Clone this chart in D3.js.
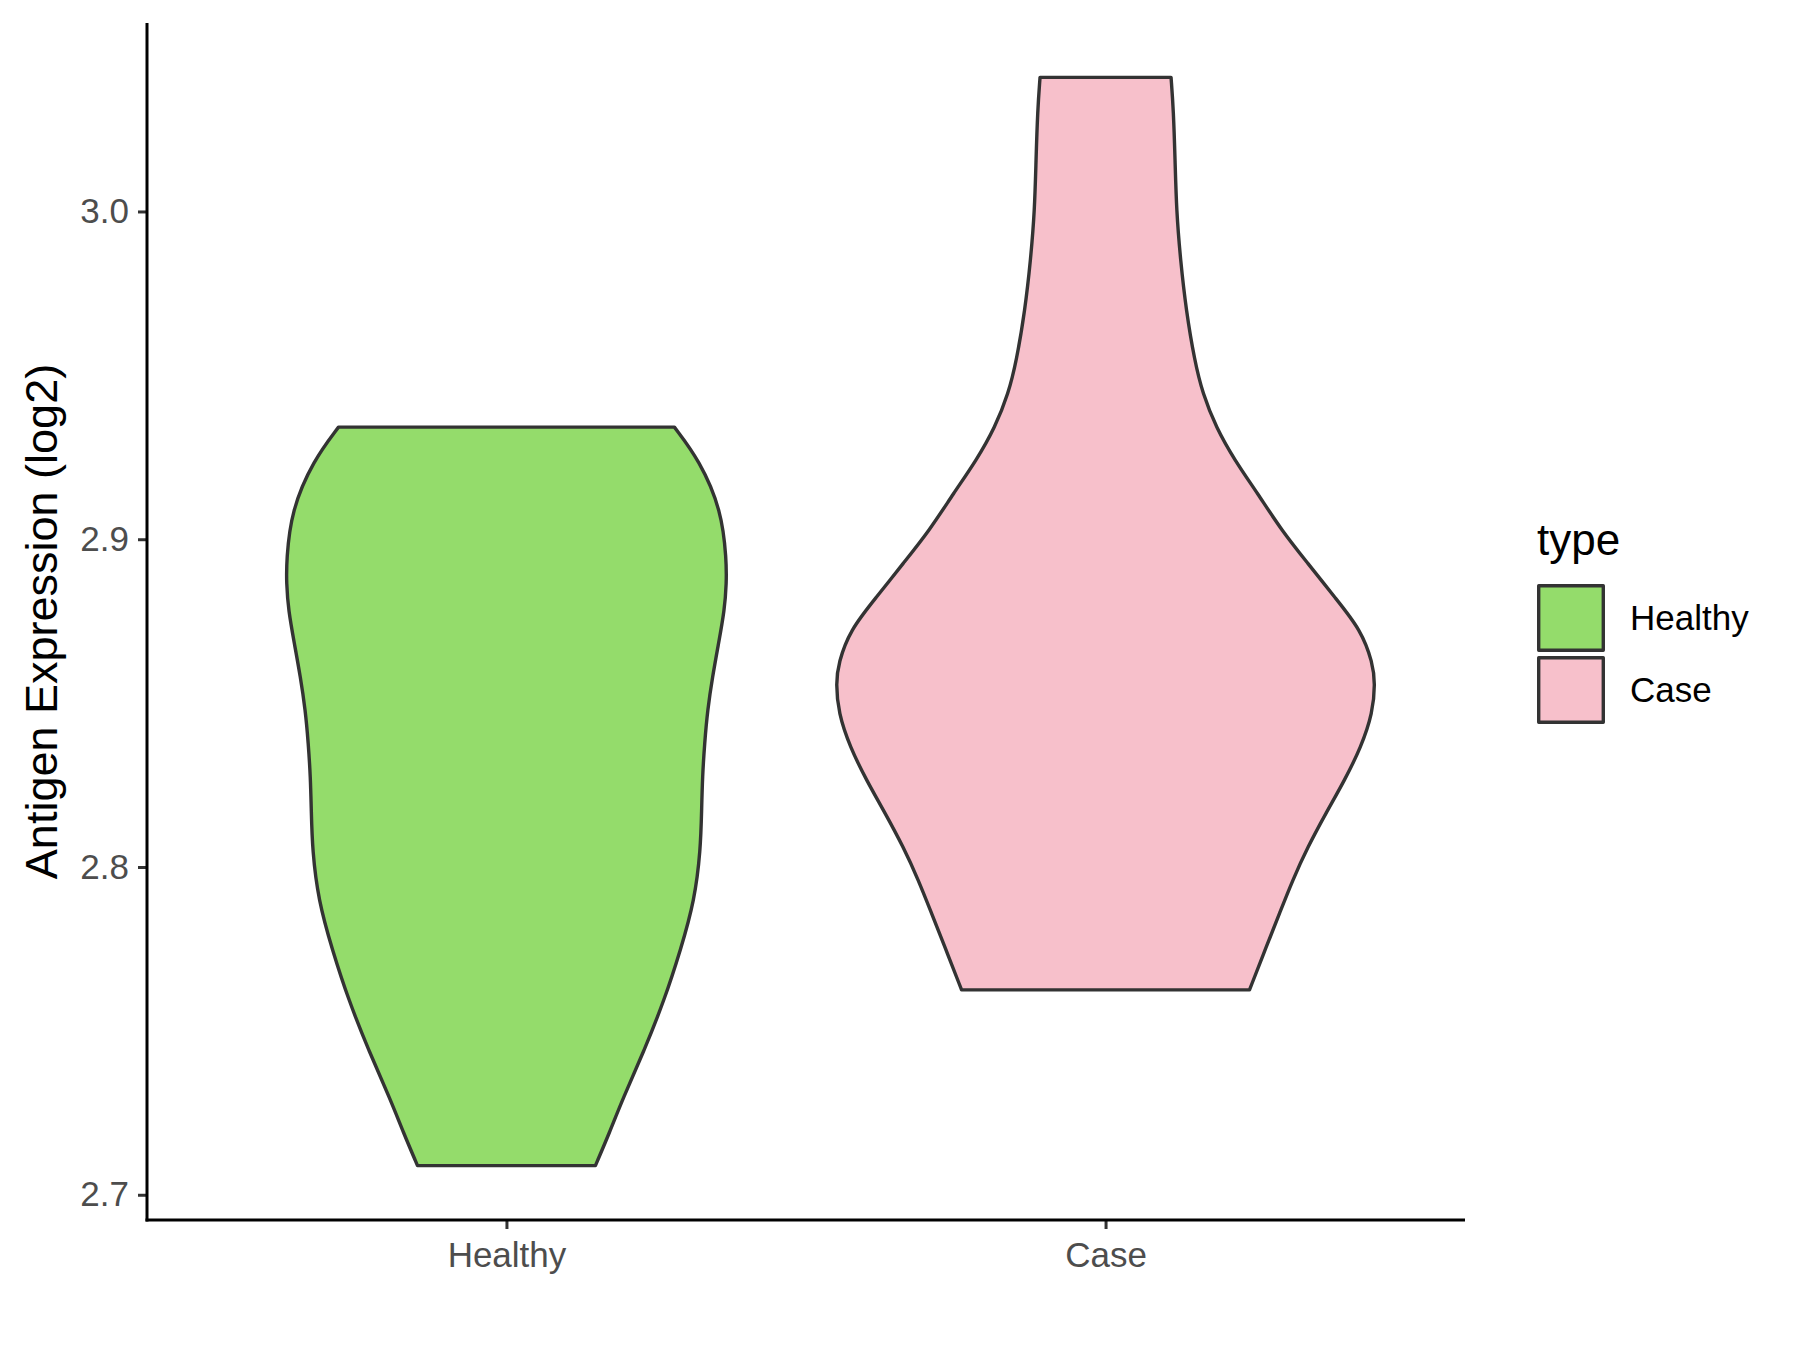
<!DOCTYPE html>
<html>
<head>
<meta charset="utf-8">
<script src="https://cdn.jsdelivr.net/npm/d3@7"></script>
<style>
    body { margin: 0; background: #fff; }
    text { font-family: "Liberation Sans", Arial, sans-serif; }
</style>
</head>
<body>
<svg id="chart" width="1800" height="1350"></svg>
<script>
// groups on the x axis
var categories = ["Healthy", "Case"];
var fillColors = ["#94DC6B", "#F7C0CB"];

// violin outlines: value and relative half width (1 = widest violin)
var healthyValues = [2.9342, 2.9241, 2.9088, 2.8936, 2.8866, 2.8784, 2.8683, 2.8579, 2.8479, 2.8378,
    2.8274, 2.8174, 2.8052, 2.7899, 2.7747, 2.7595, 2.7442, 2.7290, 2.7189, 2.7089];
var healthyWidths = [0.623, 0.716, 0.798, 0.816, 0.816, 0.809, 0.787, 0.764, 0.746, 0.735,
    0.727, 0.724, 0.720, 0.698, 0.646, 0.586, 0.512, 0.430, 0.382, 0.330];

var caseValues = [3.0409, 3.0308, 3.0155, 3.0003, 2.9851, 2.9698, 2.9546, 2.9445, 2.9341, 2.9241,
    2.9140, 2.9027, 2.8927, 2.8823, 2.8723, 2.8622, 2.8561, 2.8470, 2.8366, 2.8265,
    2.8165, 2.8061, 2.7960, 2.7860, 2.7756, 2.7625];
var caseWidths = [0.243, 0.252, 0.258, 0.263, 0.278, 0.299, 0.330, 0.360, 0.410, 0.479,
    0.564, 0.653, 0.750, 0.850, 0.948, 0.991, 1.000, 0.991, 0.948, 0.887,
    0.818, 0.750, 0.694, 0.646, 0.596, 0.534];

var yTicks = [2.7, 2.8, 2.9, 3.0];
var yTitle = "Antigen Expression (log2)";
var legendTitle = "type";

var svg = d3.select("#chart");
// note: "top" is taken by window.top, so use plot* names
var plotLeft = 147, plotRight = 1465, plotTop = 23, plotBottom = 1220;

var violins = [
    { name: "Healthy", values: healthyValues, widths: healthyWidths },
    { name: "Case", values: caseValues, widths: caseWidths }
];

var allValues = healthyValues.concat(caseValues);
var lo = d3.min(allValues), hi = d3.max(allValues);
var pad = (hi - lo) * 0.05;

var x = d3.scalePoint().domain(categories).range([plotLeft, plotRight]).padding(0.6);
var y = d3.scaleLinear().domain([lo - pad, hi + pad]).range([plotBottom, plotTop]);
var color = d3.scaleOrdinal().domain(categories).range(fillColors);
var halfMax = x.step() * 0.45;

var area = d3.area()
    .y(function (d) { return y(d.v); })
    .x0(function (d) { return d.cx - d.w * halfMax; })
    .x1(function (d) { return d.cx + d.w * halfMax; })
    .curve(d3.curveBasis);

violins.forEach(function (vi) {
    var pts = vi.values.map(function (v, i) {
        return { v: v, w: vi.widths[i], cx: x(vi.name) };
    });
    svg.append("path")
        .datum(pts)
        .attr("d", area)
        .attr("fill", color(vi.name))
        .attr("stroke", "#333333")
        .attr("stroke-width", 3.4)
        .attr("stroke-linejoin", "round");
});

// axes
var yAxis = svg.append("g")
    .attr("transform", "translate(" + plotLeft + ",0)")
    .call(d3.axisLeft(y).tickValues(yTicks).tickFormat(d3.format(".1f")).tickSize(9).tickPadding(9));
yAxis.select(".domain").remove();
yAxis.selectAll(".tick line").attr("stroke", "#333333").attr("stroke-width", 3);
yAxis.selectAll(".tick text").attr("fill", "#4D4D4D").attr("font-size", 35)
    .style("font-family", "'Liberation Sans', Arial, sans-serif");

var xAxis = svg.append("g")
    .attr("transform", "translate(0," + plotBottom + ")")
    .call(d3.axisBottom(x).tickSize(9).tickPadding(13));
xAxis.select(".domain").remove();
xAxis.selectAll(".tick line").attr("stroke", "#333333").attr("stroke-width", 3);
xAxis.selectAll(".tick text").attr("fill", "#4D4D4D").attr("font-size", 35)
    .style("font-family", "'Liberation Sans', Arial, sans-serif");

svg.append("line")
    .attr("x1", plotLeft).attr("x2", plotLeft)
    .attr("y1", plotTop).attr("y2", plotBottom + 1.5)
    .attr("stroke", "black").attr("stroke-width", 3);
svg.append("line")
    .attr("x1", plotLeft - 1.5).attr("x2", plotRight)
    .attr("y1", plotBottom).attr("y2", plotBottom)
    .attr("stroke", "black").attr("stroke-width", 3);

svg.append("text")
    .attr("transform", "translate(57," + ((plotTop + plotBottom) / 2) + ") rotate(-90)")
    .attr("text-anchor", "middle")
    .attr("font-size", 45)
    .attr("fill", "black")
    .text(yTitle);

// legend
var legend = svg.append("g").attr("transform", "translate(1537,0)");
legend.append("text")
    .attr("x", 0).attr("y", 555)
    .attr("font-size", 44)
    .attr("fill", "black")
    .text(legendTitle);

categories.forEach(function (c, i) {
    legend.append("rect")
        .attr("x", 1.7).attr("y", 585.7 + i * 72)
        .attr("width", 64.6).attr("height", 64.6)
        .attr("fill", color(c))
        .attr("stroke", "#333333")
        .attr("stroke-width", 3.4)
        .attr("stroke-linejoin", "round");
    legend.append("text")
        .attr("x", 93).attr("y", 618 + i * 72)
        .attr("dy", "0.35em")
        .attr("font-size", 35)
        .attr("fill", "black")
        .text(c);
});
</script>
</body>
</html>
